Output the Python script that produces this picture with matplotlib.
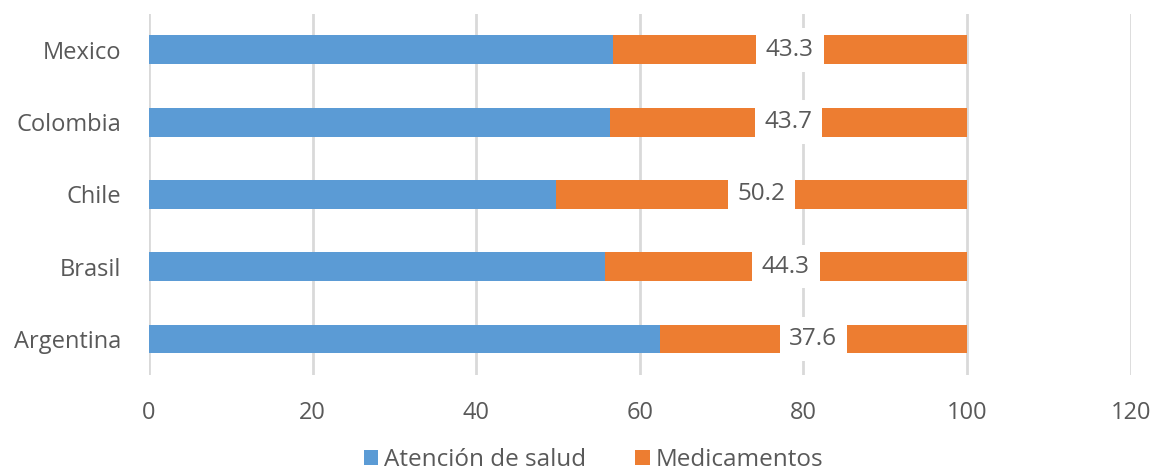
import numpy as np
import matplotlib.pyplot as plt

plt.rcParams['font.family'] = ['Open Sans', 'DejaVu Sans']

# Datos del gráfico
paises = ['Argentina', 'Brasil', 'Chile', 'Colombia', 'Mexico']
atencion = [62.4, 55.7, 49.8, 56.3, 56.7]
medicamentos = [37.6, 44.3, 50.2, 43.7, 43.3]

azul = '#5b9bd5'
naranja = '#ed7d31'
gris = '#595959'

fig = plt.figure(figsize=(11.55, 4.76), dpi=100)
ax = fig.add_axes([0.129, 0.212, 0.85, 0.759])

y = np.arange(len(paises))
ax.barh(y, atencion, height=0.4, color=azul, label='Atención de salud', zorder=3)
ax.barh(y, medicamentos, left=atencion, height=0.4, color=naranja,
        label='Medicamentos', zorder=3)

# etiquetas de medicamentos con fondo blanco
for i in range(len(paises)):
    xc = atencion[i] + medicamentos[i] / 2
    ax.text(xc, y[i], f'{medicamentos[i]:.1f}', ha='center', va='center',
            fontsize=17.5, color=gris, zorder=4,
            bbox=dict(facecolor='white', edgecolor='none', pad=7))

ax.set_xlim(0, 120)
ax.set_ylim(-0.5, 4.5)
ax.set_xticks(range(0, 121, 20))
ax.set_yticks(y)
ax.set_yticklabels(paises)
ax.tick_params(axis='both', length=0, labelsize=17, colors=gris)
ax.tick_params(axis='x', pad=19)
ax.tick_params(axis='y', pad=20)
ax.grid(axis='x', color='#d9d9d9', linewidth=2, zorder=0)
for s in ax.spines.values():
    s.set_visible(False)

fig.legend(loc='lower center', bbox_to_anchor=(0.514, -0.038), ncol=2, frameon=False,
           fontsize=17.5, labelcolor=gris, handlelength=0.6, handleheight=0.6,
           handletextpad=0.25, columnspacing=2.0)

fig.savefig('out.png', dpi=100)
